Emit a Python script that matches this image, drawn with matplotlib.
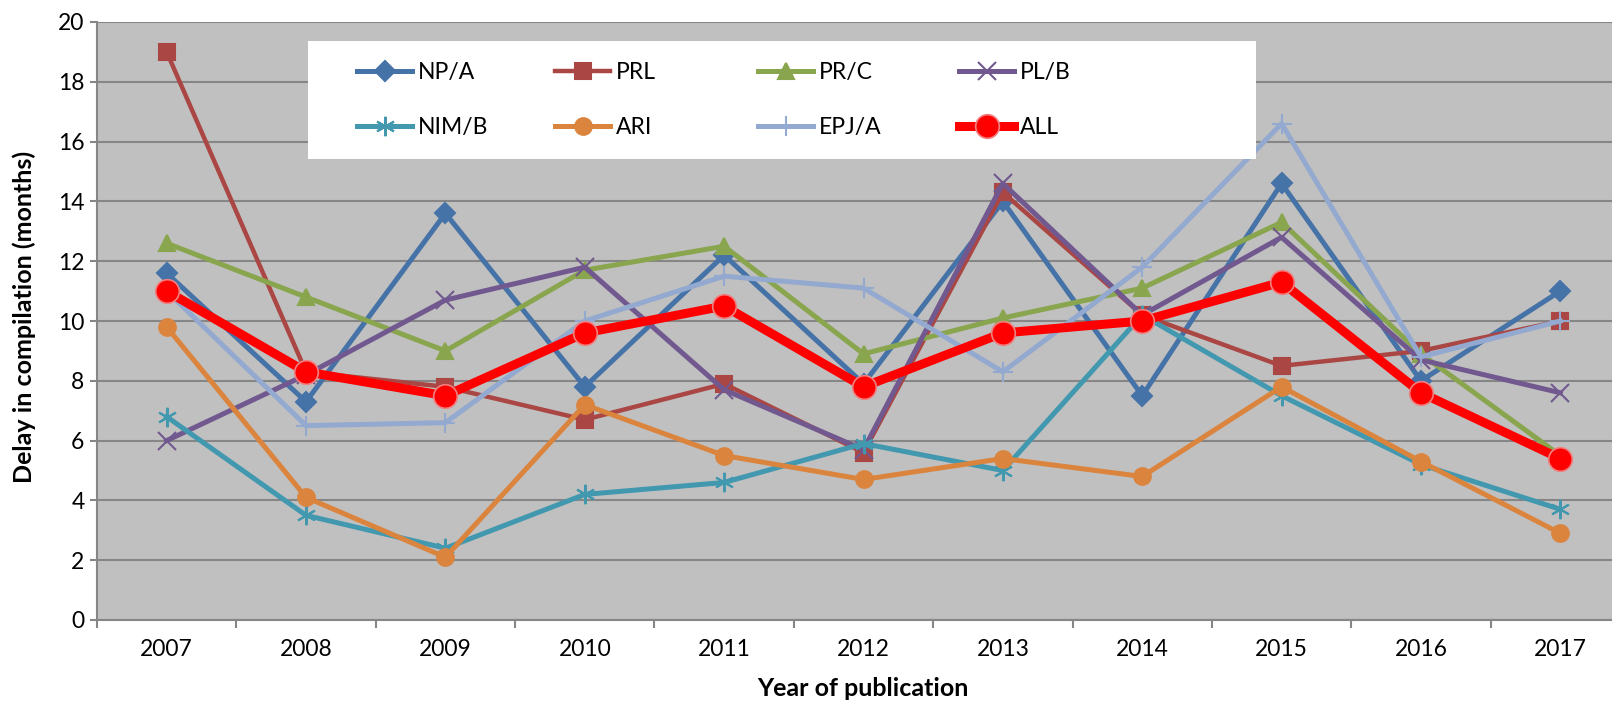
import matplotlib
matplotlib.use("Agg")
import matplotlib.pyplot as plt
from matplotlib.patches import Rectangle

# data
years = ["2007", "2008", "2009", "2010", "2011", "2012", "2013", "2014", "2015", "2016", "2017"]
np_a = [11.6, 7.3, 13.6, 7.8, 12.2, 7.9, 14.0, 7.5, 14.6, 8.0, 11.0]
prl = [19.0, 8.3, 7.8, 6.7, 7.9, 5.6, 14.3, 10.2, 8.5, 9.0, 10.0]
pr_c = [12.6, 10.8, 9.0, 11.7, 12.5, 8.9, 10.1, 11.1, 13.3, 8.9, 5.5]
pl_b = [6.0, 8.2, 10.7, 11.8, 7.7, 5.7, 14.6, 10.2, 12.8, 8.7, 7.6]
nim_b = [6.8, 3.5, 2.4, 4.2, 4.6, 5.9, 5.0, 10.2, 7.5, 5.2, 3.7]
ari = [9.8, 4.1, 2.1, 7.2, 5.5, 4.7, 5.4, 4.8, 7.8, 5.3, 2.9]
epj_a = [11.0, 6.5, 6.6, 10.0, 11.5, 11.1, 8.3, 11.8, 16.6, 8.8, 10.0]
all_j = [11.0, 8.3, 7.5, 9.6, 10.5, 7.8, 9.6, 10.0, 11.3, 7.6, 5.4]

plt.rcParams['font.family'] = ['Lato', 'DejaVu Sans']
FS = 16.5

W, H = 1612, 701
fig = plt.figure(figsize=(W / 100, H / 100), dpi=100)
# plot area runs a little past the right edge, as in the reference
ax = fig.add_axes([97 / W, (H - 620) / H, (1630 - 97) / W, (620 - 22) / H])
ax.set_facecolor('#c0c0c0')

x = list(range(len(years)))
series = [
    ("NP/A", np_a, '#4572a7', 'D', 10, 3.6),
    ("PRL", prl, '#aa4643', 's', 11, 3.2),
    ("PR/C", pr_c, '#89a54e', '^', 12, 3.6),
    ("PL/B", pl_b, '#71588f', 'x', 13, 3.6),
    ("NIM/B", nim_b, '#4198af', (6, 2, 0), 14, 3.6),
    ("ARI", ari, '#db843d', 'o', 12, 3.6),
    ("EPJ/A", epj_a, '#93a9cf', '+', 15, 3.6),
]
handles = {}
for name, vals, col, mk, ms, lw in series:
    h, = ax.plot(x, vals, color=col, lw=lw, marker=mk, ms=ms,
                 mfc=col, mec=col, mew=1.5, label=name, zorder=3)
    handles[name] = h
h, = ax.plot(x, all_j, color='#ff0000', lw=6.5, marker='o', ms=17,
             mfc='#ff0000', mec='#f08080', mew=1.2, label="ALL", zorder=4)
handles["ALL"] = h

ax.set_xlim(-0.5, 10.5)
ax.set_ylim(0, 20)
ax.set_yticks(range(0, 21, 2))
ax.set_xticks(x)
ax.set_xticklabels(years)
ax.set_xticks([i - 0.5 for i in range(12)], minor=True)
ax.tick_params(axis='x', which='major', length=0, pad=14, labelsize=FS)
ax.tick_params(axis='x', which='minor', length=6, width=1.5, color='#868686', direction='out')
ax.tick_params(axis='y', length=5, width=1.5, color='#868686', pad=4, labelsize=FS)
ax.grid(axis='y', color='#868686', lw=1.5, zorder=1)
ax.set_axisbelow(True)
for s in ['top', 'right']:
    ax.spines[s].set_visible(False)
for s in ['left', 'bottom']:
    ax.spines[s].set_color('#868686')
    ax.spines[s].set_linewidth(1.5)

ax.set_ylabel("Delay in compilation (months)", fontsize=18, fontweight='bold')
ax.yaxis.set_label_coords((24 - 97) / 1533, (620 - 317) / 598)
ax.yaxis.label.set_va('center')
ax.set_xlabel("Year of publication", fontsize=18, fontweight='bold')
ax.xaxis.set_label_coords((863 - 97) / 1533, (620 - 689) / 598)
ax.xaxis.label.set_va('center')

# white legend box, then four one-column legends at fixed places
box = Rectangle((308 / W, (H - 159) / H), (1256 - 308) / W, (159 - 41) / H,
                transform=fig.transFigure, facecolor='white', edgecolor='none', zorder=5)
fig.patches.append(box)
cols = [["NP/A", "NIM/B"], ["PRL", "ARI"], ["PR/C", "EPJ/A"], ["PL/B", "ALL"]]
col_x = [357, 555, 758, 959]
for names, cx in zip(cols, col_x):
    leg = fig.legend([handles[n] for n in names], names, loc='center left',
                     bbox_to_anchor=(cx / W, (H - 100) / H), frameon=False,
                     fontsize=FS, handlelength=2.4, handletextpad=0.25,
                     labelspacing=1.5, borderpad=0, borderaxespad=0)
    leg.set_zorder(6)

fig.savefig("out.png", dpi=100)
